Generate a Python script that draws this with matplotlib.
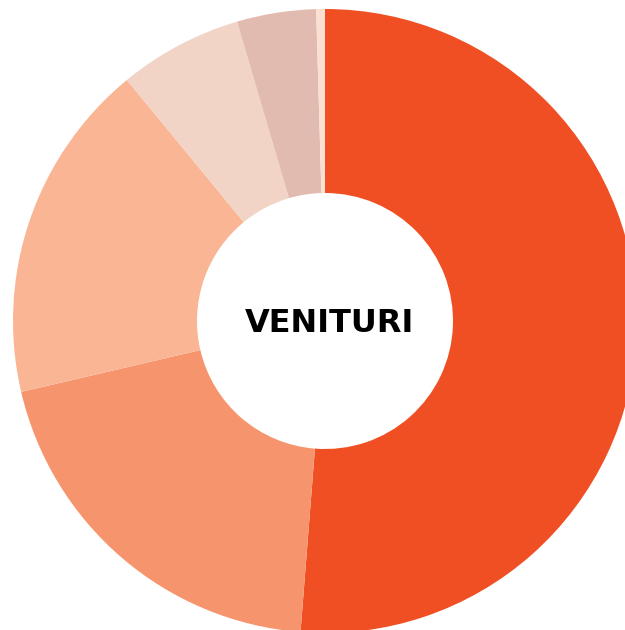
import matplotlib
matplotlib.use('Agg')
import matplotlib.pyplot as plt

# share of each income source (%)
values = [51.25, 20.1, 17.7, 6.4, 4.1, 0.45]
colors = ['#F04F23', '#F6956D', '#F9B594', '#F2D4C7', '#E2BBB0', '#F9E0D3']
title = 'VENITURI'

fig = plt.figure(figsize=(6.25, 6.3), dpi=100)
ax = fig.add_axes([0, 0, 1, 1])

R = 312.0
cx, cy = 325.0, 321.0
ax.pie(values, colors=colors, startangle=90, counterclock=False, radius=1,
       wedgeprops=dict(width=1 - 128 / R, linewidth=0))
ax.text(0.015, -0.008, title, ha='center', va='center', fontsize=23,
        fontweight='bold', color='black', family='DejaVu Sans')

ax.set_xlim(-cx / R, (625 - cx) / R)
ax.set_ylim(-(630 - cy) / R, cy / R)
ax.set_aspect('equal')
ax.axis('off')

fig.savefig('out.png', dpi=100, facecolor='white')
